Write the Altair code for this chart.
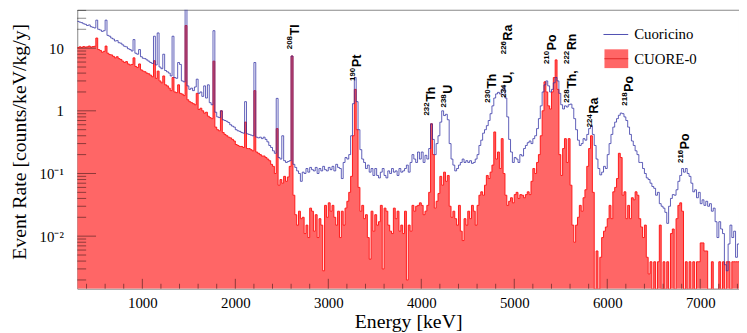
import altair as alt
import pandas as pd

# ---------------- data ----------------
E_START = 300   # keV, first bin edge
BIN = 20        # keV bin width

SERIES = ["Cuoricino", "CUORE-0"]

# CUORE-0 event rate [counts/keV/kg/y], one value per 20 keV bin starting at 300 keV
CUORE0 = [
    10.2, 10.5, 10.3, 10.6, 10.4,        # 300
    10.5, 10.8, 10.4, 10.6, 10.7,        # 400
    14.5, 9.5, 9.2, 8.6, 8.9,            # 500
    10.8, 8.3, 7.9, 7.8, 7.4,            # 600
    7.0, 7.3, 6.8, 6.6, 6.2,             # 700
    5.9, 6.1, 5.6, 5.4, 5.5,             # 800
    7.0, 5.1, 4.9, 5.6, 4.5,             # 900
    4.3, 4.2, 4.0, 3.9, 3.7,             # 1000
    3.5, 6.3, 3.3, 4.3, 3.0,             # 1100
    2.8, 3.6, 2.6, 2.5, 2.3,             # 1200
    2.1, 3.4, 2.0, 1.95, 2.6,            # 1300
    1.9, 1.85, 1.75, 23, 1.5,            # 1400
    1.4, 1.35, 1.3, 1.25, 1.9,           # 1500
    1.05, 1.1, 1.0, 0.92, 0.95,          # 1600
    0.82, 0.78, 0.75, 6.2, 0.55,         # 1700
    0.5, 0.48, 1.0, 0.45, 0.42,          # 1800
    0.40, 0.38, 0.37, 0.35, 0.33,        # 1900
    0.29, 0.28, 0.27, 0.27, 0.26,        # 2000
    0.66, 0.25, 0.25, 0.24, 0.23,        # 2100
    2.1, 0.22, 0.21, 0.2, 0.19,          # 2200
    0.19, 0.18, 0.17, 0.16, 0.14,        # 2300
    0.13, 0.1, 0.52, 0.065, 0.08,        # 2400
    0.07, 0.09, 0.075, 0.088, 0.13,      # 2500
    7.5, 0.045, 0.022, 0.015, 0.025,     # 2600
    0.019, 0.02, 0.011, 0.015, 0.0095,   # 2700
    0.028, 0.025, 0.012, 0.022, 0.0095,  # 2800
    0.019, 0.015, 0.0028, 0.031, 0.02,   # 2900
    0.034, 0.025, 0.031, 0.02, 0.015,    # 3000
    0.025, 0.0095, 0.025, 0.015, 0.028,  # 3100
    0.036, 0.05, 0.09, 0.4, 2.2,         # 3200
    0.5, 0.06, 0.025, 0.031, 0.019,      # 3300
    0.022, 0.0095, 0.0043, 0.025, 0.012, # 3400
    0.022, 0.015, 0.017, 0.031, 0.003,   # 3500
    0.028, 0.025, 0.015, 0.012, 0.011,   # 3600
    0.028, 0.019, 0.025, 0.012, 0.015,   # 3700
    0.011, 0.025, 0.002, 0.015, 0.012,   # 3800
    0.031, 0.025, 0.03, 0.031, 0.034,    # 3900
    0.031, 0.022, 0.025, 0.031, 0.05,    # 4000
    0.62, 0.2, 0.028, 0.036, 0.048,      # 4100
    0.09, 0.065, 0.105, 0.075, 0.093,    # 4200
    0.03, 0.02, 0.025, 0.019, 0.015,     # 4300
    0.031, 0.012, 0.0085, 0.019, 0.015,  # 4400
    0.025, 0.019, 0.031, 0.025, 0.015,   # 4500
    0.031, 0.045, 0.051, 0.045, 0.065,   # 4600
    0.093, 0.083, 0.105, 0.136, 0.46,    # 4700
    0.17, 0.22, 0.12, 0.36, 0.1,         # 4800
    0.045, 0.031, 0.036, 0.041, 0.034,   # 4900
    0.046, 0.05, 0.04, 0.046, 0.045,     # 5000
    0.041, 0.046, 0.051, 0.046, 0.075,   # 5100
    0.12, 0.1, 0.15, 0.2, 0.4,           # 5200
    1.0, 2.9, 2.0, 1.2, 1.07,            # 5300
    2.0, 3.4, 6.5, 2.2, 0.2,             # 5400
    0.093, 0.25, 0.36, 0.15, 0.36,       # 5500
    0.065, 0.015, 0.008, 0.015, 0.02,    # 5600
    0.031, 0.025, 0.041, 0.055, 0.13,    # 5700
    0.25, 0.4, 0.05, 0, 0.0058,          # 5800
    0, 0.0046, 0.0095, 0.012, 0.014,     # 5900
    0.019, 0.031, 0.019, 0.051, 0.06,    # 6000
    0.083, 0.21, 0.18, 0.045, 0.051,     # 6100
    0.019, 0.031, 0.019, 0.041, 0.038,   # 6200
    0.051, 0.045, 0.019, 0.014, 0.0095,  # 6300
    0.015, 0.0046, 0.0025, 0.0039, 0,    # 6400
    0.0039, 0, 0.0039, 0.015, 0,         # 6500
    0.0039, 0, 0.0039, 0, 0.011,         # 6600
    0.013, 0, 0.019, 0.031, 0.034,       # 6700
    0.025, 0, 0.0039, 0, 0.0039,         # 6800
    0, 0.0039, 0, 0.0039, 0.0039,        # 6900
    0.0078, 0.0078, 0.0058, 0.0058, 0,   # 7000
    0, 0.0039, 0, 0, 0,                  # 7100
    0.0039, 0, 0.0039, 0, 0.0039,        # 7200
    0.0039, 0, 0.0039, 0.0039, 0.0039,   # 7300
    0.0039,                              # 7400
]

# Cuoricino event rate, same binning
CUORICINO = [
    26.7, 26, 25.5, 24.5, 24,            # 300
    23, 23.5, 22, 21.5, 21,              # 400
    28, 20, 19.5, 18.5, 19,              # 500
    28, 16, 15.5, 14.5, 14,              # 600
    13, 13.2, 12.2, 12, 11.3,            # 700
    10.7, 10.5, 9.8, 9.5, 9.0,           # 800
    13.7, 8.3, 8.0, 9.5, 7.3,            # 900
    6.9, 6.8, 6.5, 6.2, 5.9,             # 1000
    5.7, 15.5, 5.4, 17.5, 5.0,           # 1100
    4.7, 8.0, 4.4, 4.2, 4.0,             # 1200
    3.6, 15.5, 3.4, 3.3, 5.9,            # 1300
    5.5, 3.0, 2.9, 45, 2.5,              # 1400
    2.2, 2.3, 2.1, 2.4, 3.2,             # 1500
    1.9, 2.0, 1.7, 2.5, 1.6,             # 1600
    2.6, 1.35, 1.25, 19, 0.95,           # 1700
    0.8, 0.78, 1.0, 0.72, 0.7,           # 1800
    0.68, 0.65, 0.6, 0.57, 0.55,         # 1900
    0.5, 0.48, 0.47, 0.45, 0.44,         # 2000
    1.4, 0.43, 0.42, 0.41, 0.4,          # 2100
    5.9, 0.38, 0.37, 0.38, 0.36,         # 2200
    0.38, 0.35, 0.32, 0.28, 0.26,        # 2300
    0.23, 0.21, 1.58, 0.18, 0.17,        # 2400
    0.40, 0.16, 0.15, 0.155, 0.16,       # 2500
    7.5, 0.14, 0.125, 0.11, 0.1,         # 2600
    0.075, 0.105, 0.1, 0.12, 0.105,      # 2700
    0.125, 0.115, 0.11, 0.125, 0.1,      # 2800
    0.12, 0.11, 0.13, 0.115, 0.11,       # 2900
    0.125, 0.115, 0.13, 0.11, 0.14,      # 3000
    0.125, 0.12, 0.083, 0.15, 0.18,      # 3100
    0.17, 0.2, 0.4, 1.3, 3.4,            # 3200
    1.4, 0.5, 0.24, 0.17, 0.15,          # 3300
    0.12, 0.136, 0.105, 0.12, 0.093,     # 3400
    0.12, 0.093, 0.085, 0.105, 0.12,     # 3500
    0.093, 0.085, 0.11, 0.1, 0.12,       # 3600
    0.105, 0.11, 0.093, 0.12, 0.105,     # 3700
    0.11, 0.12, 0.136, 0.105, 0.15,      # 3800
    0.2, 0.17, 0.15, 0.22, 0.17,         # 3900
    0.22, 0.15, 0.195, 0.17, 0.25,       # 4000
    0.62, 0.35, 0.2, 0.3, 0.4,           # 4100
    0.66, 1.0, 0.84, 0.88, 0.72,         # 4200
    0.3, 0.17, 0.136, 0.11, 0.12,        # 4300
    0.136, 0.15, 0.17, 0.15, 0.16,       # 4400
    0.15, 0.16, 0.145, 0.15, 0.17,       # 4500
    0.2, 0.28, 0.34, 0.44, 0.5,          # 4600
    0.58, 0.7, 0.9, 1.2, 1.6,            # 4700
    1.86, 1.97, 1.86, 2.2, 2.5,          # 4800
    1.6, 0.8, 0.35, 0.22, 0.15,          # 4900
    0.18, 0.17, 0.15, 0.2, 0.19,         # 5000
    0.25, 0.28, 0.31, 0.33, 0.3,         # 5100
    0.36, 0.4, 0.52, 0.75, 1.2,          # 5200
    2.0, 2.6, 3.0, 2.5, 2.0,             # 5300
    2.2, 2.8, 3.4, 3.0, 1.9,             # 5400
    1.25, 1.07, 1.2, 1.15, 1.25,         # 5500
    1.28, 1.1, 0.75, 0.5, 0.34,          # 5600
    0.28, 0.3, 0.36, 0.34, 0.42,         # 5700
    0.52, 0.58, 0.42, 0.28, 0.17,        # 5800
    0.12, 0.095, 0.105, 0.13, 0.12,      # 5900
    0.2, 0.3, 0.42, 0.55, 0.66,          # 6000
    0.75, 0.85, 0.92, 0.9, 0.8,          # 6100
    0.7, 0.55, 0.42, 0.33, 0.28,         # 6200
    0.23, 0.2, 0.15, 0.15, 0.12,         # 6300
    0.1, 0.085, 0.08, 0.07, 0.062,       # 6400
    0.058, 0.045, 0.05, 0.033, 0.03,     # 6500
    0.028, 0.024, 0.016, 0.03, 0.04,     # 6600
    0.046, 0.045, 0.055, 0.075, 0.093,   # 6700
    0.12, 0.105, 0.12, 0.1, 0.09,        # 6800
    0.07, 0.051, 0.055, 0.041, 0.05,     # 6900
    0.033, 0.038, 0.031, 0.036, 0.03,    # 7000
    0.033, 0.025, 0.028, 0.017, 0.0095,  # 7100
    0.017, 0.013, 0.011, 0.0035, 0.0028, # 7200
    0.0075, 0.015, 0.0095, 0.012, 0.0046,# 7300
    0.0075,                              # 7400
]

# peak annotations: mass number, element, energy [keV], rate where the text starts
NUC_MASS = ["208", "190", "232", "238", "230", "234", "226", "210", "228", "222", "224", "218", "216"]
NUC_SYMBOL = ["Tl", "Pt", "Th", "U", "Th", "U,", "Ra", "Po", "Th,", "Rn", "Ra", "Po", "Po"]
NUC_E = [2681, 3351, 4149, 4330, 4808, 4979, 4979, 5447, 5659, 5659, 5904, 6277, 6883]
NUC_RATE = [9.6, 3.0, 0.84, 1.13, 1.35, 1.62, 8.0, 5.58, 1.35, 5.6, 0.545, 1.21, 0.147]

# axes
X_DOMAIN = [300, 7417]
Y_DOMAIN = [0.00145, 41]
X_MAJOR = [1000, 2000, 3000, 4000, 5000, 6000, 7000]
Y_MAJOR = [0.01, 0.1, 1, 10]

# ---------------- tables ----------------
n = len(CUORE0)
edges = [E_START + BIN * i for i in range(n + 1)]
hist = pd.DataFrame({
    "E": edges,
    "cuore0": CUORE0 + [CUORE0[-1]],
    "cuoricino": CUORICINO + [CUORICINO[-1]],
})
x_minor = [e for e in range(400, 7401, 200) if e % 1000 != 0]
y_minor = [m * 10.0 ** k for k in range(-3, 2) for m in range(2, 10)
           if Y_DOMAIN[0] <= m * 10.0 ** k <= Y_DOMAIN[1]]
nuc = pd.DataFrame({"mass": NUC_MASS, "sym": NUC_SYMBOL, "E": NUC_E, "v": NUC_RATE})

W, H = 669, 282
RED_FILL = "#ff6666"
RED_LINE = "#ff1a1a"
BLUE = "#2e2ea3"

xscale = alt.Scale(domain=X_DOMAIN, nice=False, zero=False)
yscale = alt.Scale(type="log", domain=Y_DOMAIN, nice=False)

x_axis = alt.Axis(values=X_MAJOR, format="d", title="Energy [keV]",
                  titleX=W / 2, titleY=39, titleBaseline="alphabetic",
                  labelPadding=7)
y_axis = alt.Axis(values=Y_MAJOR, title="Event Rate [counts/keV/kg/y]",
                  labelExpr="datum.value < 0.05 ? '10⁻²' : datum.value < 0.5 ? '10⁻¹' : datum.value < 5 ? '1' : '10'",
                  titleX=-52, titleY=133, titleAngle=270, titleAlign="center",
                  titleBaseline="alphabetic", labelPadding=14)


def X(field):
    return alt.X(field, scale=xscale, axis=x_axis)


def Y(field, **kw):
    return alt.Y(field, scale=yscale, axis=y_axis, **kw)


base = alt.Chart(hist).transform_calculate(
    r="max(datum.cuore0, 0.0008)", b="max(datum.cuoricino, 0.0008)")

red_area = base.mark_area(interpolate="step-after", color=RED_FILL, opacity=1, clip=True).encode(
    x=X("E:Q"), y=Y("r:Q", stack=None), y2=alt.value(H))
red_line = base.mark_line(interpolate="step-after", color=RED_LINE, strokeWidth=1, clip=True).encode(
    x=X("E:Q"), y=Y("r:Q"))
blue_line = base.mark_line(interpolate="step-after", color=BLUE, strokeWidth=0.9, opacity=0.85,
                           clip=True).encode(x=X("E:Q"), y=Y("b:Q"))

tick_style = dict(color="black", opacity=0.45, strokeWidth=1)
xt_major = alt.Chart(pd.DataFrame({"E": X_MAJOR})).mark_rule(**tick_style).encode(
    x=X("E:Q"), y=alt.value(H), y2=alt.value(H - 10))
xt_minor = alt.Chart(pd.DataFrame({"E": x_minor})).mark_rule(**tick_style).encode(
    x=X("E:Q"), y=alt.value(H), y2=alt.value(H - 5))
yt_major = alt.Chart(pd.DataFrame({"r": Y_MAJOR})).mark_rule(**tick_style).encode(
    y=Y("r:Q"), x=alt.value(0), x2=alt.value(19))
yt_minor = alt.Chart(pd.DataFrame({"r": y_minor})).mark_rule(**tick_style).encode(
    y=Y("r:Q"), x=alt.value(0), x2=alt.value(9))

lab_common = dict(angle=270, align="left", baseline="alphabetic", font="Liberation Sans",
                  fontWeight="bold", color="black")
mass_labels = alt.Chart(nuc).mark_text(fontSize=8, dy=-6.5, **lab_common).encode(
    x=X("E:Q"), y=Y("v:Q"), text="mass:N")
sym_labels = alt.Chart(nuc).mark_text(fontSize=12.5, dx=14, **lab_common).encode(
    x=X("E:Q"), y=Y("v:Q"), text="sym:N")

# legend
leg_blue = pd.DataFrame({"name": [SERIES[0]]})
leg_red = pd.DataFrame({"name": [SERIES[1]]})
leg_line = alt.Chart(leg_blue).mark_rule(color=BLUE, strokeWidth=1, opacity=0.85).encode(
    x=alt.value(532), x2=alt.value(557), y=alt.value(25))
leg_text1 = alt.Chart(leg_blue).mark_text(align="left", baseline="middle", font="Liberation Serif",
                                          fontSize=15, color="black").encode(
    x=alt.value(563), y=alt.value(25), text="name:N")
leg_box = alt.Chart(leg_red).mark_rect(color=RED_FILL).encode(
    x=alt.value(533), x2=alt.value(557), y=alt.value(40), y2=alt.value(59))
leg_boxline = alt.Chart(leg_red).mark_rule(color="#e02a2a", strokeWidth=1).encode(
    x=alt.value(533), x2=alt.value(557), y=alt.value(49.5))
leg_text2 = alt.Chart(leg_red).mark_text(align="left", baseline="middle", font="Liberation Serif",
                                         fontSize=15, color="black").encode(
    x=alt.value(563), y=alt.value(50), text="name:N")

chart = alt.layer(
    red_area, red_line, blue_line,
    xt_major, xt_minor, yt_major, yt_minor,
    mass_labels, sym_labels, leg_line, leg_text1, leg_box, leg_boxline, leg_text2,
).properties(
    width=W, height=H,
    autosize=alt.AutoSizeParams(type="none"),
    padding={"left": 70, "top": 0, "right": 0, "bottom": 43},
).configure_axis(
    labelFont="Liberation Serif", labelFontSize=15, labelColor="black",
    titleFont="Liberation Serif", titleFontSize=20, titleFontWeight="normal", titleColor="black",
    domain=False, ticks=False, grid=False,
).configure_view(stroke="#888888", strokeWidth=1)

chart.save("out.html", embed_options={"renderer": "svg", "actions": False})
